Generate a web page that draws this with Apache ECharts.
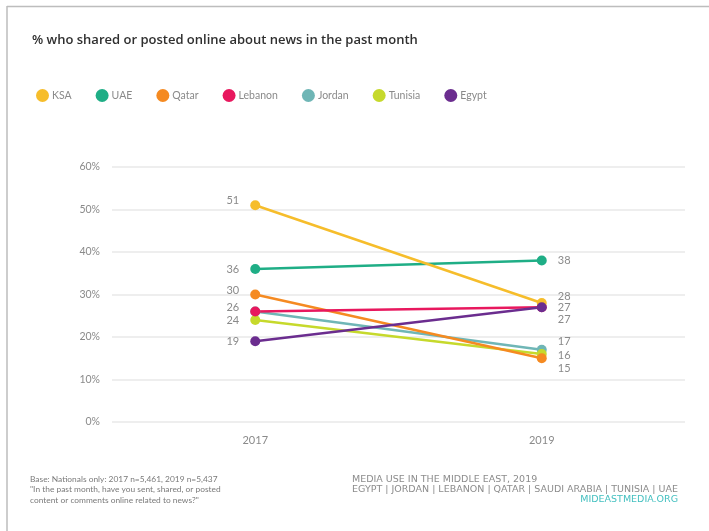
<!DOCTYPE html>
<html>
<head>
<meta charset="utf-8">
<script src="https://cdn.jsdelivr.net/npm/echarts@6/dist/echarts.min.js"></script>
<style>
  html, body { margin: 0; padding: 0; background: #fff; }
  #chart { width: 709px; height: 531px; }
</style>
</head>
<body>
<div id="chart"></div>
<script>
// Survey years on the x axis
const years = ['2017', '2019'];

// Share of nationals who shared or posted online about news (%)
const countries = ['KSA', 'UAE', 'Qatar', 'Lebanon', 'Jordan', 'Tunisia', 'Egypt'];
const ksa     = [51, 28];
const uae     = [36, 38];
const qatar   = [30, 15];
const lebanon = [26, 27];
const jordan  = [26, 17];
const tunisia = [24, 16];
const egypt   = [19, 27];

const yTicks = [0, 10, 20, 30, 40, 50, 60];

const colors = {
  KSA: '#f6bd2b',
  UAE: '#1fae86',
  Qatar: '#f58a21',
  Lebanon: '#e8185e',
  Jordan: '#6fb6b6',
  Tunisia: '#c6d92c',
  Egypt: '#6b2d8f'
};

// Vertical nudges so that crowded end labels stay readable: [2017, 2019]
const labelNudge = {
  KSA: [-5, -7],
  UAE: [0, 0],
  Qatar: [-4, 10],
  Lebanon: [-4, 0],
  Jordan: [null, -8],     // null = label hidden (shares the Lebanon value)
  Tunisia: [0, 1],
  Egypt: [0, 12]
};

const seriesValues = { KSA: ksa, UAE: uae, Qatar: qatar, Lebanon: lebanon, Jordan: jordan, Tunisia: tunisia, Egypt: egypt };

const labelText = { color: '#8a8a8a', fontSize: 11, fontFamily: 'Lato, "Noto Sans", sans-serif' };

function buildSeries(name) {
  const vals = seriesValues[name];
  const nudge = labelNudge[name];
  return {
    name: name,
    type: 'line',
    symbol: 'circle',
    symbolSize: 10,
    color: colors[name],
    lineStyle: { width: 2.5, color: colors[name] },
    itemStyle: { color: colors[name] },
    emphasis: { disabled: true },
    data: vals.map((v, i) => ({
      value: v,
      label: {
        show: nudge[i] !== null,
        position: i === 0 ? 'left' : 'right',
        distance: 11,
        offset: [0, nudge[i] || 0],
        formatter: '{c}',
        ...labelText
      }
    }))
  };
}

// Drawing order of the lines (later ones sit on top)
const order = ['Jordan', 'Tunisia', 'Qatar', 'Lebanon', 'UAE', 'KSA', 'Egypt'];

const chart = echarts.init(document.getElementById('chart'), null, { renderer: 'canvas' });

chart.setOption({
  animation: false,
  backgroundColor: '#ffffff',
  title: {
    text: '% who shared or posted online about news in the past month',
    left: 27,
    top: 29,
    textStyle: {
      color: '#2f2f2f',
      fontSize: 13,
      fontWeight: 600,
      fontFamily: '"Open Sans", "Noto Sans", sans-serif'
    }
  },
  legend: {
    data: countries.map(c => ({ name: c, icon: 'circle', itemStyle: { color: colors[c] } })),
    left: 31,
    top: 84,
    itemWidth: 13,
    itemHeight: 13,
    itemGap: 24,
    textStyle: { color: '#8a8a8a', fontSize: 10.5, fontFamily: 'Lato, "Noto Sans", sans-serif', padding: [0, 0, 0, -2] },
    selectedMode: false
  },
  grid: { left: 112, right: 24, top: 167, bottom: 109 },
  xAxis: {
    type: 'category',
    data: years,
    boundaryGap: true,
    axisLine: { show: false },
    axisTick: { show: false },
    axisLabel: { margin: 13, ...labelText }
  },
  yAxis: {
    type: 'value',
    min: yTicks[0],
    max: yTicks[yTicks.length - 1],
    interval: 10,
    axisLine: { show: false },
    axisTick: { show: false },
    splitLine: { lineStyle: { color: '#e9e9e9', width: 1.5 } },
    axisLabel: { formatter: '{value}%', margin: 12, ...labelText, fontSize: 10.5 }
  },
  series: order.map(buildSeries),
  graphic: [
    // frame edges
    { type: 'line', shape: { x1: 7, y1: 6.5, x2: 709, y2: 6.5 }, style: { stroke: '#bdbdbd', lineWidth: 1.5 }, silent: true },
    { type: 'line', shape: { x1: 7, y1: 6, x2: 7, y2: 531 }, style: { stroke: '#bdbdbd', lineWidth: 1.5 }, silent: true },
    // footnote, left
    {
      type: 'text', left: 30, top: 474, silent: true,
      style: {
        text: 'Base: Nationals only: 2017 n=5,461, 2019 n=5,437\n"In the past month, have you sent, shared, or posted\ncontent or comments online related to news?"',
        fill: '#7a7a7a', fontSize: 8.4, lineHeight: 10.5,
        fontFamily: 'Lato, "Noto Sans", sans-serif'
      }
    },
    // source, right
    {
      type: 'text', right: 31, top: 474, silent: true,
      style: {
        text: 'MEDIA USE IN THE MIDDLE EAST, 2019\nEGYPT | JORDAN | LEBANON | QATAR | SAUDI ARABIA | TUNISIA | UAE',
        fill: '#8c8c8c', fontSize: 9.5, lineHeight: 10.5, align: 'right',
        fontFamily: '"DejaVu Sans", sans-serif'
      }
    },
    {
      type: 'text', right: 31, top: 495, silent: true,
      style: {
        text: 'MIDEASTMEDIA.ORG',
        fill: '#44c0c0', fontSize: 9.5, align: 'right',
        fontFamily: '"DejaVu Sans", sans-serif'
      }
    }
  ]
});
</script>
</body>
</html>
